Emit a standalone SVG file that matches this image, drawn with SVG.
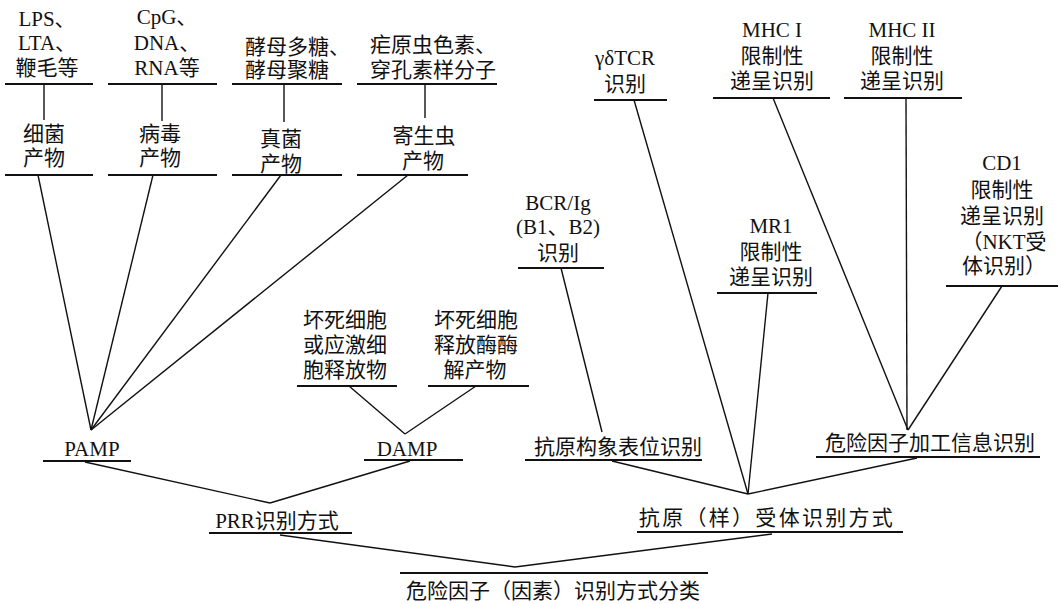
<svg xmlns="http://www.w3.org/2000/svg" width="1062" height="604" viewBox="0 0 1062 604">
<style>
text{font-family:"Liberation Serif","Noto Sans CJK SC",serif;font-size:21px;fill:#111;text-anchor:middle}
.s{text-anchor:start}
.u{stroke:#111;stroke-width:1.8;fill:none}
.c line{stroke:#111;stroke-width:1.4}
</style>
<rect width="1062" height="604" fill="#fff"/>
<g id="bact-src"><text x="47" y="26">LPS、</text><text x="47" y="50">LTA、</text><text x="47" y="75">鞭毛等</text><line class="u" x1="5" y1="84" x2="93" y2="84"/></g>
<g id="bact"><text x="44" y="141">细菌</text><text x="44" y="165">产物</text><line class="u" x1="5" y1="175" x2="93" y2="175"/></g>
<g id="virus-src"><text x="167" y="24">CpG、</text><text x="167" y="50">DNA、</text><text x="167" y="75">RNA等</text><line class="u" x1="108" y1="84" x2="217" y2="84"/></g>
<g id="virus"><text x="160" y="141">病毒</text><text x="160" y="165">产物</text><line class="u" x1="108" y1="175" x2="217" y2="175"/></g>
<g id="fungus-src"><text class="s" x="245" y="54">酵母多糖、</text><text class="s" x="245" y="77">酵母聚糖</text><line class="u" x1="232" y1="84" x2="342" y2="84"/></g>
<g id="fungus"><text x="281" y="146">真菌</text><text x="281" y="171">产物</text><line class="u" x1="232" y1="175" x2="342" y2="175"/></g>
<g id="parasite-src"><text class="s" x="370" y="52">疟原虫色素、</text><text class="s" x="370" y="77">穿孔素样分子</text><line class="u" x1="357" y1="84" x2="497" y2="84"/></g>
<g id="parasite"><text x="424" y="143">寄生虫</text><text x="423" y="168">产物</text><line class="u" x1="357" y1="175" x2="468" y2="175"/></g>
<g id="gdtcr"><text x="625" y="65">γδTCR</text><text x="625" y="91">识别</text><line class="u" x1="594" y1="100" x2="667" y2="100"/></g>
<g id="mhc1"><text x="772" y="37">MHC I</text><text x="772" y="63">限制性</text><text x="772" y="88">递呈识别</text><line class="u" x1="713" y1="98" x2="830" y2="98"/></g>
<g id="mhc2"><text x="902" y="37">MHC II</text><text x="902" y="63">限制性</text><text x="902" y="88">递呈识别</text><line class="u" x1="844" y1="98" x2="962" y2="98"/></g>
<g id="cd1"><text x="1002" y="170">CD1</text><text x="1002" y="197">限制性</text><text x="1002" y="223">递呈识别</text><text x="1004" y="249">（NKT受</text><text x="1004" y="273">体识别）</text><line class="u" x1="946" y1="286" x2="1058" y2="286"/></g>
<g id="mr1"><text x="771" y="233">MR1</text><text x="771" y="259">限制性</text><text x="771" y="284">递呈识别</text><line class="u" x1="717" y1="293" x2="817" y2="293"/></g>
<g id="bcr"><text x="558" y="210">BCR/Ig</text><text x="558" y="234">(B1、B2)</text><text x="558" y="260">识别</text><line class="u" x1="518" y1="268" x2="604" y2="268"/></g>
<g id="necrotic1"><text x="345" y="327">坏死细胞</text><text x="345" y="352">或应激细</text><text x="345" y="377">胞释放物</text><line class="u" x1="297" y1="386" x2="397" y2="386"/></g>
<g id="necrotic2"><text x="476" y="327">坏死细胞</text><text x="476" y="352">释放酶酶</text><text x="475" y="377">解产物</text><line class="u" x1="428" y1="386" x2="529" y2="386"/></g>
<g id="pamp"><text x="92" y="456">PAMP</text><line class="u" x1="43" y1="461" x2="131" y2="461"/></g>
<g id="damp"><text x="407" y="456">DAMP</text><line class="u" x1="364" y1="460" x2="463" y2="460"/></g>
<g id="epitope"><text x="618" y="454">抗原构象表位识别</text><line class="u" x1="525" y1="460" x2="702" y2="460"/></g>
<g id="processing"><text x="930" y="450">危险因子加工信息识别</text><line class="u" x1="816" y1="457" x2="1040" y2="457"/></g>
<g id="prr"><text x="277" y="528">PRR识别方式</text><line class="u" x1="209" y1="533" x2="352" y2="533"/></g>
<g id="antigen"><text x="767" y="525" style="letter-spacing:2.3px">抗原（样）受体识别方式</text><line class="u" x1="637" y1="532" x2="903" y2="532"/></g>
<g id="root"><line class="u" x1="400" y1="573" x2="708" y2="573"/><text x="553" y="598">危险因子（因素）识别方式分类</text></g>
<g id="connectors" class="c">
<line x1="44" y1="84" x2="44" y2="120"/>
<line x1="162" y1="84" x2="162" y2="121"/>
<line x1="284" y1="84" x2="284" y2="122"/>
<line x1="425" y1="84" x2="425" y2="118"/>
<line x1="38" y1="175" x2="91" y2="430"/>
<line x1="153" y1="175" x2="91" y2="430"/>
<line x1="281" y1="175" x2="91" y2="430"/>
<line x1="408" y1="175" x2="91" y2="430"/>
<line x1="349" y1="386" x2="405" y2="434"/>
<line x1="476" y1="386" x2="405" y2="434"/>
<line x1="85" y1="462" x2="270" y2="503"/>
<line x1="410" y1="461" x2="270" y2="503"/>
<line x1="561" y1="268" x2="602" y2="432"/>
<line x1="634" y1="100" x2="748" y2="494"/>
<line x1="768" y1="293" x2="748" y2="494"/>
<line x1="773" y1="98" x2="908" y2="430"/>
<line x1="906" y1="98" x2="907" y2="430"/>
<line x1="1002" y1="286" x2="908" y2="430"/>
<line x1="612" y1="461" x2="748" y2="494"/>
<line x1="917" y1="458" x2="748" y2="494"/>
<line x1="280" y1="535" x2="515" y2="567"/>
<line x1="772" y1="534" x2="515" y2="567"/>
</g>
</svg>
